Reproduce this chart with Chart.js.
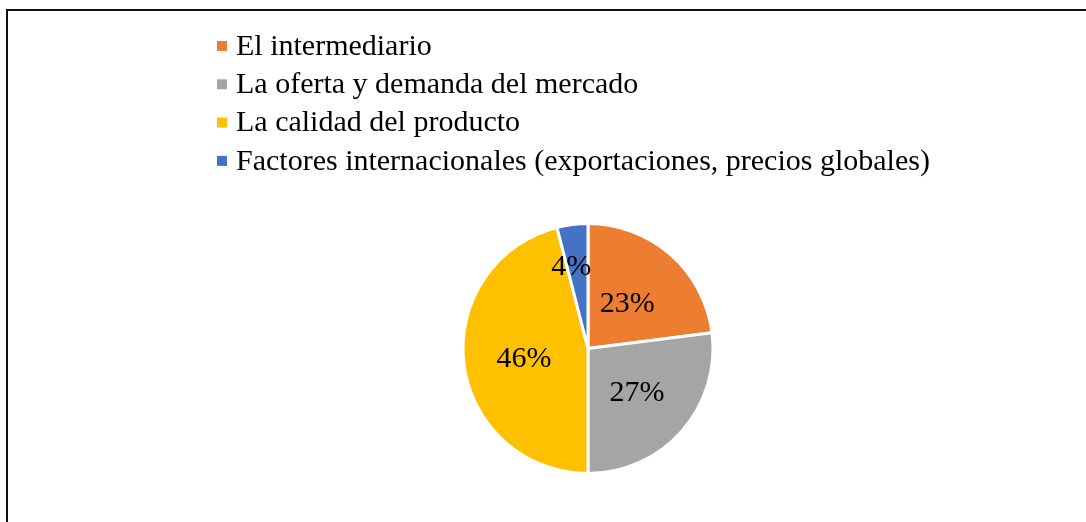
<!DOCTYPE html>
<html>
<head>
<meta charset="utf-8">
<script src="https://cdn.jsdelivr.net/npm/chart.js@4"></script>
<style>
  html, body { margin: 0; padding: 0; background: #fff; overflow: hidden; }
  #wrap { position: relative; width: 1086px; height: 522px; }
  #frame { position: absolute; left: 6px; top: 9px; width: 1200px; height: 600px;
           border-top: 2px solid #111; border-left: 2px solid #111; }
  canvas { position: absolute; left: 0; top: 0; }
</style>
</head>
<body>
<div id="wrap">
  <div id="frame"></div>
  <canvas id="myChart" width="1086" height="522"></canvas>
</div>
<script>
// data
var categorias = ['El intermediario', 'La oferta y demanda del mercado', 'La calidad del producto', 'Factores internacionales (exportaciones, precios globales)'];
var porcentajes = [23, 27, 46, 4];
var colores = ['#ED7D31', '#A5A5A5', '#FFC000', '#4472C4'];

var fuente = '"Liberation Serif", "Times New Roman", serif';

// legend drawn one item per row, like the original
var leyenda = {
    id: 'leyenda',
    afterDraw: function(chart) {
        var c = chart.ctx;
        var labels = chart.data.labels;
        var cols = chart.data.datasets[0].backgroundColor;
        c.save();
        c.font = '30px ' + fuente;
        c.textBaseline = 'middle';
        for (var i = 0; i < labels.length; i++) {
            var y = 46 + i * 38.3;
            c.fillStyle = cols[i];
            c.fillRect(217, y - 5, 10, 10);
            c.fillStyle = '#000';
            c.fillText(labels[i], 236, y + 1);
        }
        c.restore();
    }
};

// percentage labels inside the slices
var etiquetas = {
    id: 'etiquetas',
    afterDatasetsDraw: function(chart) {
        var c = chart.ctx;
        var meta = chart.getDatasetMeta(0);
        var data = chart.data.datasets[0].data;
        c.save();
        c.font = '30px ' + fuente;
        c.textAlign = 'center';
        c.textBaseline = 'middle';
        c.fillStyle = '#000';
        meta.data.forEach(function(arc, i) {
            var p = arc.getProps(['x', 'y', 'startAngle', 'endAngle', 'outerRadius']);
            var mid = (p.startAngle + p.endAngle) / 2;
            var f = data[i] < 8 ? 0.68 : 0.5;
            var r = p.outerRadius * f;
            var dx = data[i] < 8 ? -6 : (i == 1 ? 2 : -2);
            c.fillText(data[i] + '%', p.x + Math.cos(mid) * r + dx, p.y + Math.sin(mid) * r + 3);
        });
        c.restore();
    }
};

var ctx = document.getElementById('myChart').getContext('2d');
var chart = new Chart(ctx, {
    type: 'pie',
    data: {
        labels: categorias,
        datasets: [{
            data: porcentajes,
            backgroundColor: colores,
            borderColor: '#fff',
            borderWidth: 3
        }]
    },
    options: {
        responsive: false,
        animation: false,
        layout: { padding: { top: 222, bottom: 47, left: 90, right: 0 } },
        plugins: {
            legend: { display: false },
            tooltip: { enabled: false }
        }
    },
    plugins: [leyenda, etiquetas]
});
</script>
</body>
</html>
